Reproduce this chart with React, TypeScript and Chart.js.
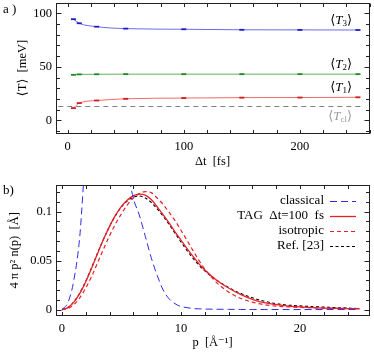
import React, { useEffect, useRef } from "react";
import { Chart, registerables } from "chart.js";

Chart.register(...registerables);

const FONT = "'Liberation Serif', 'DejaVu Serif', serif";

// ---------- Panel a data ----------
const dtValues = [5, 10, 25, 50, 100, 150, 200, 250];
const t3Values = [94.5, 90.7, 87.5, 85.7, 85.1, 84.6, 84.5, 84.4];
const t2Values = [42.6, 43.0, 43.1, 43.2, 43.2, 43.2, 43.2, 43.2];
const t1Values = [11.5, 16.2, 18.6, 20.2, 20.9, 21.3, 21.4, 21.6];
const tclSpan = [-8, 254];
const tclValue = 13.0;
const dtTicks = [0, 20, 40, 60, 80, 100, 120, 140, 160, 180, 200, 220, 240, 260];
const dtTickLabels = [0, 100, 200];
const tTicks = [-10, 0, 10, 20, 30, 40, 50, 60, 70, 80, 90, 100];
const tTickLabels = [0, 50, 100];
const tSeriesNames = ["3", "2", "1", "cl"];

// ---------- Panel b data ----------
const pGrid = [0, 0.5, 1, 1.5, 2, 2.5, 3, 3.5, 4, 4.5, 5, 5.5, 6, 6.5, 7, 7.5, 8, 8.5, 9, 9.5, 10, 10.5, 11, 11.5, 12, 13, 14, 15, 16, 17, 18, 19, 20, 21, 22, 23, 24, 25];
const classicalValues = [0, 0.007, 0.03, 0.075, 0.162, 0.22, 0.26, 0.28, 0.275, 0.24, 0.19, 0.145, 0.1137, 0.0966, 0.075, 0.053, 0.035, 0.02, 0.011, 0.006, 0.003, 0.002, 0.001, 0.0007, 0.0005, 0.0003, 0.0002, 0.0001, 0, 0, 0, 0, 0, 0, 0, 0, 0, 0];
const tagValues = [0, 0.002, 0.0075, 0.0165, 0.0285, 0.0425, 0.0575, 0.072, 0.085, 0.0965, 0.1055, 0.112, 0.1165, 0.118, 0.117, 0.1125, 0.105, 0.097, 0.0885, 0.0795, 0.071, 0.0625, 0.0545, 0.047, 0.0405, 0.03, 0.022, 0.0155, 0.0105, 0.007, 0.005, 0.0035, 0.0027, 0.002, 0.0015, 0.0012, 0.001, 0.0008];
const isotropicValues = [0, 0.001, 0.005, 0.012, 0.022, 0.034, 0.048, 0.062, 0.0755, 0.0875, 0.098, 0.107, 0.114, 0.1185, 0.1205, 0.1195, 0.114, 0.1075, 0.0995, 0.091, 0.081, 0.071, 0.0605, 0.0505, 0.0415, 0.0275, 0.018, 0.0115, 0.0075, 0.005, 0.0035, 0.0027, 0.0022, 0.0018, 0.0015, 0.0012, 0.001, 0.0008];
const refValues = [0, 0.002, 0.008, 0.017, 0.029, 0.043, 0.058, 0.072, 0.085, 0.096, 0.105, 0.111, 0.115, 0.116, 0.114, 0.1095, 0.103, 0.0955, 0.087, 0.078, 0.069, 0.0605, 0.0525, 0.0455, 0.0395, 0.03, 0.0225, 0.0165, 0.012, 0.0085, 0.006, 0.0045, 0.0037, 0.003, 0.0025, 0.002, 0.0015, 0.001];
const pTicks = [0, 2, 4, 6, 8, 10, 12, 14, 16, 18, 20, 22, 24];
const pTickLabels = [0, 10, 20];
const nTicks = [0, 0.01, 0.02, 0.03, 0.04, 0.05, 0.06, 0.07, 0.08, 0.09, 0.1, 0.11, 0.12];
const nTickLabels = [0, 0.05, 0.1];
const legendLabels = ["classical", "TAG  Δt=100  fs", "isotropic", "Ref. [23]"];

type Part = { t: string; f: string; dy?: number };

function drawRich(ctx: CanvasRenderingContext2D, parts: Part[], xRight: number, yMid: number, color: string) {
  ctx.save();
  ctx.textBaseline = "middle";
  ctx.fillStyle = color;
  let w = 0;
  for (const p of parts) {
    ctx.font = p.f;
    w += ctx.measureText(p.t).width;
  }
  let x = xRight - w;
  for (const p of parts) {
    ctx.font = p.f;
    ctx.fillText(p.t, x, yMid + (p.dy || 0));
    x += ctx.measureText(p.t).width;
  }
  ctx.restore();
}

function isIn(list: number[], v: number) {
  return list.some((l) => Math.abs(l - v) < 1e-9);
}

function framePlugin(xMajor: number[], yMajor: number[]) {
  return {
    id: "frameTicks",
    afterDatasetsDraw(chart: any) {
      const { ctx, chartArea } = chart;
      const xs = chart.scales.x;
      const ys = chart.scales.y;
      const L = Math.floor(chartArea.left) + 0.5;
      const R = Math.floor(chartArea.right) + 0.5;
      const T = Math.floor(chartArea.top) + 0.5;
      const B = Math.floor(chartArea.bottom) + 0.5;
      ctx.save();
      ctx.strokeStyle = "#222";
      ctx.lineWidth = 1;
      ctx.beginPath();
      for (const t of xs.ticks) {
        const px = Math.round(xs.getPixelForValue(t.value)) + 0.5;
        const len = 3.5;
        ctx.moveTo(px, B);
        ctx.lineTo(px, B - len);
        ctx.moveTo(px, T);
        ctx.lineTo(px, T + len);
      }
      for (const t of ys.ticks) {
        const py = Math.round(ys.getPixelForValue(t.value)) + 0.5;
        const len = isIn(yMajor, t.value) ? 5 : 3.5;
        ctx.moveTo(L, py);
        ctx.lineTo(L + len, py);
        ctx.moveTo(R, py);
        ctx.lineTo(R - len, py);
      }
      ctx.stroke();
      ctx.strokeRect(L, T, R - L, B - T);
      ctx.restore();
    },
  };
}

function fixedAxisY(width: number) {
  return (s: any) => {
    s.width = width;
    s.paddingTop = 0;
    s.paddingBottom = 0;
    s.paddingLeft = 0;
    s.paddingRight = 0;
  };
}
function fixedAxisX(height: number) {
  return (s: any) => {
    s.height = height;
    s.paddingTop = 0;
    s.paddingBottom = 0;
    s.paddingLeft = 0;
    s.paddingRight = 0;
  };
}

const annotationsA = {
  id: "annotA",
  afterDraw(chart: any) {
    const { ctx } = chart;
    const xs = chart.scales.x;
    const ys = chart.scales.y;
    ctx.save();
    ctx.font = `13px ${FONT}`;
    ctx.fillStyle = "#000";
    ctx.textBaseline = "middle";
    ctx.textAlign = "left";
    ctx.fillText("a )", 3, 10);
    ctx.restore();
    const labelY = [92.8, 51.9, 30.4, 3.4];
    const xr = xs.getPixelForValue(245);
    tSeriesNames.forEach((sub, i) => {
      const color = sub === "cl" ? "#999" : "#000";
      drawRich(
        ctx,
        [
          { t: "⟨", f: `13px ${FONT}` },
          { t: "T", f: `italic 13px ${FONT}` },
          { t: sub, f: `9px ${FONT}`, dy: 3 },
          { t: "⟩", f: `13px ${FONT}` },
        ],
        xr,
        ys.getPixelForValue(labelY[i]),
        color
      );
    });
  },
};

const annotationsB = {
  id: "annotB",
  afterDraw(chart: any) {
    const { ctx, chartArea } = chart;
    ctx.save();
    ctx.font = `13px ${FONT}`;
    ctx.fillStyle = "#000";
    ctx.textBaseline = "middle";
    ctx.textAlign = "left";
    ctx.fillText("b)", 3, 21);
    // legend
    const ds = chart.data.datasets;
    const textRight = chartArea.right - 45;
    const x0 = chartArea.right - 39;
    const x1 = chartArea.right - 13;
    const order = [0, 1, 2, 3];
    order.forEach((di, row) => {
      const d = ds[di];
      const y = chartArea.top + 16 + row * 15;
      ctx.textAlign = "right";
      ctx.fillStyle = "#000";
      ctx.font = `13px ${FONT}`;
      ctx.fillText(d.label, textRight, y);
      ctx.beginPath();
      ctx.strokeStyle = d.borderColor;
      ctx.lineWidth = d.borderWidth;
      ctx.setLineDash(d.borderDash || []);
      ctx.moveTo(x0, Math.round(y) + 0.5);
      ctx.lineTo(x1, Math.round(y) + 0.5);
      ctx.stroke();
      ctx.setLineDash([]);
    });
    ctx.restore();
  },
};

const gridOpts = { display: false, drawTicks: false, tickLength: 0 };

function PanelA() {
  const ref = useRef<HTMLCanvasElement>(null);
  useEffect(() => {
    const mk = (vals: number[]) => dtValues.map((x, i) => ({ x, y: vals[i] }));
    const chart = new Chart(ref.current!, {
      type: "line",
      data: {
        datasets: [
          {
            label: "T3",
            data: mk(t3Values),
            borderColor: "#6a6aee",
            borderWidth: 1,
            pointStyle: "line",
            pointRadius: 2.5,
            pointHoverRadius: 2.5,
            pointBorderWidth: 1.8,
            pointBorderColor: "#1c1cc8",
            cubicInterpolationMode: "monotone",
          },
          {
            label: "T2",
            data: mk(t2Values),
            borderColor: "#5cb35c",
            borderWidth: 1,
            pointStyle: "line",
            pointRadius: 2.5,
            pointHoverRadius: 2.5,
            pointBorderWidth: 1.8,
            pointBorderColor: "#1e8a1e",
            cubicInterpolationMode: "monotone",
          },
          {
            label: "T1",
            data: mk(t1Values),
            borderColor: "#ee6a6a",
            borderWidth: 1,
            pointStyle: "line",
            pointRadius: 2.5,
            pointHoverRadius: 2.5,
            pointBorderWidth: 1.8,
            pointBorderColor: "#d01c1c",
            cubicInterpolationMode: "monotone",
          },
          {
            label: "Tcl",
            data: tclSpan.map((x) => ({ x, y: tclValue })),
            borderColor: "#808080",
            borderWidth: 1,
            borderDash: [5, 4],
            pointRadius: 0,
            pointHoverRadius: 0,
          },
        ],
      },
      options: {
        animation: false,
        responsive: false,
        maintainAspectRatio: false,
        layout: { autoPadding: false, padding: { top: 3, right: 5, left: 0, bottom: 0 } },
        plugins: { legend: { display: false }, tooltip: { enabled: false } },
        scales: {
          x: {
            type: "linear",
            min: -10,
            max: 259.5,
            afterBuildTicks: (s: any) => {
              s.ticks = dtTicks.map((v) => ({ value: v }));
            },
            afterFit: fixedAxisX(37),
            grid: gridOpts,
            border: { display: false },
            ticks: {
              autoSkip: false,
              maxRotation: 0,
              padding: 6,
              color: "#000",
              font: { family: FONT, size: 12.5 },
              callback: (v: any) => (isIn(dtTickLabels, v) ? String(v) : ""),
            },
            title: {
              display: true,
              text: "Δt  [fs]",
              color: "#000",
              font: { family: FONT, size: 12.5 },
              padding: { top: 0, bottom: 0.5 },
            },
          },
          y: {
            type: "linear",
            min: -11.7,
            max: 109.6,
            afterBuildTicks: (s: any) => {
              s.ticks = tTicks.map((v) => ({ value: v }));
            },
            afterFit: fixedAxisY(56),
            grid: gridOpts,
            border: { display: false },
            ticks: {
              autoSkip: false,
              padding: 4,
              color: "#000",
              font: { family: FONT, size: 12.5, lineHeight: 0.4 },
              callback: (v: any) => (isIn(tTickLabels, v) ? String(v) : ""),
            },
            title: {
              display: true,
              text: "⟨T⟩  [meV]",
              color: "#000",
              font: { family: FONT, size: 12.5 },
              padding: { top: 15, bottom: 0 },
            },
          },
        },
      },
      plugins: [framePlugin(dtTickLabels, tTickLabels), annotationsA],
    } as any);
    return () => chart.destroy();
  }, []);
  return <canvas ref={ref} width={374} height={170} style={{ position: "absolute", left: 0, top: 0, width: 374, height: 170 }} />;
}

function PanelB() {
  const ref = useRef<HTMLCanvasElement>(null);
  useEffect(() => {
    const mk = (vals: number[]) => pGrid.map((x, i) => ({ x, y: vals[i] }));
    const chart = new Chart(ref.current!, {
      type: "line",
      data: {
        datasets: [
          {
            label: legendLabels[0],
            data: mk(classicalValues),
            borderColor: "#2c2ce6",
            borderWidth: 1,
            borderDash: [7, 4],
            pointRadius: 0,
            pointHoverRadius: 0,
            cubicInterpolationMode: "monotone",
          },
          {
            label: legendLabels[1],
            data: mk(tagValues),
            borderColor: "#e8202a",
            borderWidth: 1.3,
            pointRadius: 0,
            pointHoverRadius: 0,
            cubicInterpolationMode: "monotone",
          },
          {
            label: legendLabels[2],
            data: mk(isotropicValues),
            borderColor: "#e8202a",
            borderWidth: 1.2,
            borderDash: [4, 3],
            pointRadius: 0,
            pointHoverRadius: 0,
            cubicInterpolationMode: "monotone",
          },
          {
            label: legendLabels[3],
            data: mk(refValues),
            borderColor: "#000",
            borderWidth: 1.1,
            borderDash: [3, 2.5],
            pointRadius: 0,
            pointHoverRadius: 0,
            cubicInterpolationMode: "monotone",
          },
        ],
      },
      options: {
        animation: false,
        responsive: false,
        maintainAspectRatio: false,
        layout: { autoPadding: false, padding: { top: 15, right: 5, left: 0, bottom: 0 } },
        plugins: { legend: { display: false }, tooltip: { enabled: false } },
        scales: {
          x: {
            type: "linear",
            min: -0.5,
            max: 25.8,
            afterBuildTicks: (s: any) => {
              s.ticks = pTicks.map((v) => ({ value: v }));
            },
            afterFit: fixedAxisX(38.3),
            grid: gridOpts,
            border: { display: false },
            ticks: {
              autoSkip: false,
              maxRotation: 0,
              padding: 6,
              color: "#000",
              font: { family: FONT, size: 12.5 },
              callback: (v: any) => (isIn(pTickLabels, v) ? String(v) : ""),
            },
            title: {
              display: true,
              text: "p  [Å⁻¹]",
              color: "#000",
              font: { family: FONT, size: 12.5 },
              padding: { top: 0, bottom: 4 },
            },
          },
          y: {
            type: "linear",
            min: -0.0063,
            max: 0.1273,
            afterBuildTicks: (s: any) => {
              s.ticks = nTicks.map((v) => ({ value: v }));
            },
            afterFit: fixedAxisY(56),
            grid: gridOpts,
            border: { display: false },
            ticks: {
              autoSkip: false,
              padding: 4,
              color: "#000",
              font: { family: FONT, size: 12.5, lineHeight: 0.4 },
              callback: (v: any) => (isIn(nTickLabels, v) ? String(Math.round(v * 100) / 100) : ""),
            },
            title: {
              display: true,
              text: "4 π p² n(p)  [Å]",
              color: "#000",
              font: { family: FONT, size: 12.5 },
              padding: { top: 7, bottom: 0 },
            },
          },
        },
      },
      plugins: [framePlugin(pTickLabels, nTickLabels), annotationsB],
    } as any);
    return () => chart.destroy();
  }, []);
  return <canvas ref={ref} width={374} height={184} style={{ position: "absolute", left: 0, top: 170, width: 374, height: 184 }} />;
}

export default function App() {
  return (
    <div style={{ position: "absolute", left: 0, top: 0, width: 374, height: 354, background: "#fff", overflow: "hidden" }}>
      <PanelA />
      <PanelB />
    </div>
  );
}
